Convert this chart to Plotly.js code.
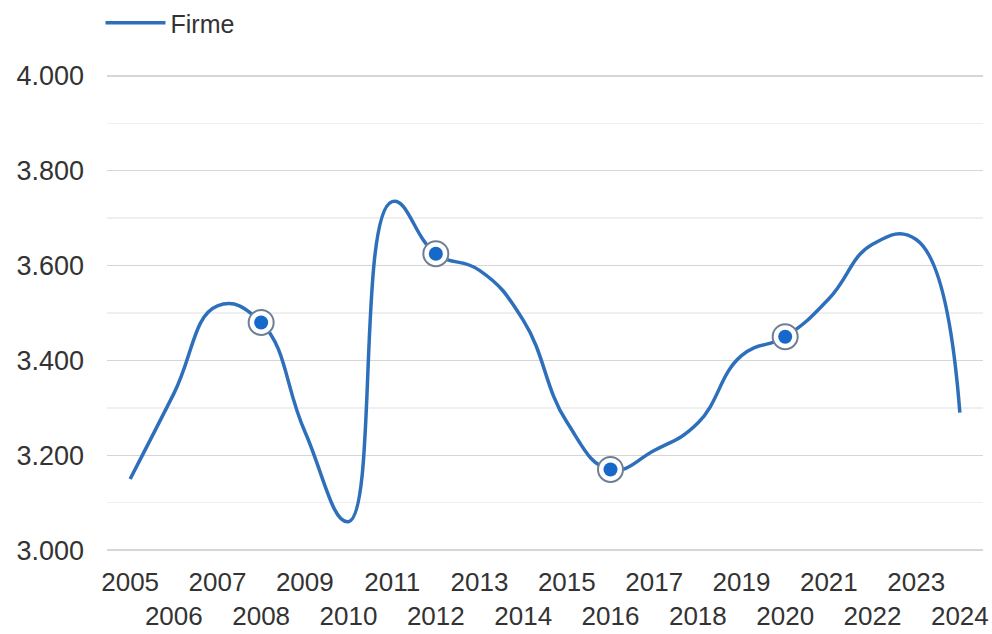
<!DOCTYPE html>
<html>
<head>
<meta charset="utf-8">
<script src="https://cdn.plot.ly/plotly-3.0.1.min.js"></script>
<style>html,body{margin:0;padding:0;background:#fff}#chart{width:992px;height:634px}</style>
</head>
<body>
<div id="chart"></div>
<script>
var years = [2005,2006,2007,2008,2009,2010,2011,2012,2013,2014,2015,2016,2017,2018,2019,2020,2021,2022,2023,2024];
var firme = [3150,3330,3515,3480,3250,3060,3735,3625,3590,3485,3270,3170,3210,3268,3410,3450,3530,3645,3655,3290];
var markerYears = [2008,2012,2016,2020];
var yTickVals = [3000,3200,3400,3600,3800,4000];
var yTickText = ['3.000','3.200','3.400','3.600','3.800','4.000'];
var xTickText = years.map(function(y,i){ return i % 2 === 0 ? String(y) : '<br>' + y; });

var markerVals = markerYears.map(function(y){ return firme[years.indexOf(y)]; });

var traces = [
  {x: years, y: firme, type: 'scatter', mode: 'lines', name: 'Firme',
   line: {color: '#2d6fbb', width: 3.5, shape: 'spline', smoothing: 1.3}, showlegend: true},
  {x: markerYears, y: markerVals, type: 'scatter', mode: 'markers', showlegend: false, hoverinfo: 'skip',
   marker: {size: 25, color: '#ffffff', line: {color: '#6d7f96', width: 2}}},
  {x: markerYears, y: markerVals, type: 'scatter', mode: 'markers', showlegend: false,
   marker: {size: 14, color: '#1769c9', line: {width: 0}}}
];

var layout = {
  width: 992, height: 634,
  paper_bgcolor: '#ffffff', plot_bgcolor: '#ffffff',
  margin: {l: 107, r: 9, t: 74, b: 82},
  font: {family: '"Liberation Sans", Arial, sans-serif', color: '#333333'},
  showlegend: true,
  legend: {orientation: 'h', xref: 'container', yref: 'container', x: 0.1013, xanchor: 'left',
           y: 0.9637, yanchor: 'middle',
           font: {size: 25, color: '#333333'}, itemwidth: 60, bgcolor: 'rgba(0,0,0,0)'},
  xaxis: {range: [2004.47, 2024.53], tickmode: 'array', tickvals: years, ticktext: xTickText,
          tickangle: 0, automargin: false,
          showgrid: false, zeroline: false, showline: false, ticks: '',
          tickfont: {size: 26, color: '#333333'}, ticklabelstandoff: 12, fixedrange: true},
  yaxis: {range: [2996, 4004], tickmode: 'array', tickvals: yTickVals, ticktext: yTickText,
          automargin: false,
          showgrid: true, gridcolor: '#d6d6d6', gridwidth: 1.5, zeroline: false, showline: false, ticks: '',
          tickfont: {size: 27, color: '#333333'}, ticklabelstandoff: 22,
          minor: {dtick: 100, tick0: 3000, showgrid: true, gridcolor: '#efefef', gridwidth: 1.5},
          fixedrange: true}
};

Plotly.newPlot('chart', traces, layout, {displayModeBar: false, staticPlot: true});
</script>
</body>
</html>
